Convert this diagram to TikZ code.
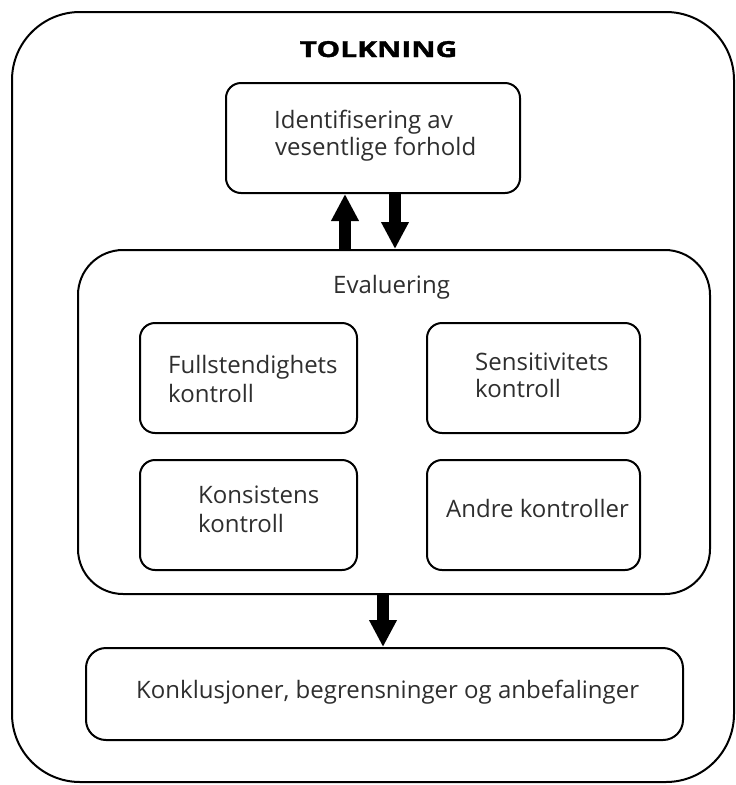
\documentclass[tikz,border=0pt]{standalone}
\usepackage{fontspec}
\setmainfont{Open Sans}
\newfontfamily\titlefont[FakeStretch=1.36,FakeBold=1.6]{Open Sans}
\usetikzlibrary{arrows.meta}
\tikzset{
  frame/.style={draw=black, line width=2pt, rounded corners=#1, inner sep=0pt},
  frame/.default=15pt,
  lbl/.style={font=\fontsize{24}{30}\selectfont, text=black!82, inner sep=0pt, anchor=base west},
  blockarrow/.style={line width=12pt, -{Triangle[width=26pt,length=27pt]}},
}
\begin{document}
\begin{tikzpicture}[x=1pt,y=-1pt]
  \useasboundingbox (0,0) rectangle (736,785);

  % outer frame and title
  \node[frame=68pt, minimum width=722pt, minimum height=770pt] (outer) at (373,397) {};
  \node[font=\fontsize{22}{26}\titlefont\bfseries, inner sep=0pt, anchor=base] (title) at (378.5,57) {TOLKNING};

  % identification step
  \node[frame, minimum width=294pt, minimum height=110pt] (ident) at (373,138) {};
  \node[lbl] (ident1) at (274,128) {Identifisering av};
  \node[lbl] (ident2) at (275,155) {vesentlige forhold};

  % evaluation group with its four checks
  \node[frame=45pt, minimum width=632pt, minimum height=344pt] (eval) at (394,422) {};
  \node[lbl] (evaltxt) at (333,293) {Evaluering};

  \node[frame, minimum width=217pt, minimum height=110pt] (full) at (248.5,378) {};
  \node[lbl] (full1) at (168,373) {Fullstendighets};
  \node[lbl] (full2) at (168,402) {kontroll};

  \node[frame, minimum width=213pt, minimum height=110pt] (sens) at (533.5,378) {};
  \node[lbl] (sens1) at (475,370) {Sensitivitets};
  \node[lbl] (sens2) at (475,397) {kontroll};

  \node[frame, minimum width=217pt, minimum height=110pt] (kons) at (248.5,515) {};
  \node[lbl] (kons1) at (198,503) {Konsistens};
  \node[lbl] (kons2) at (198,532) {kontroll};

  \node[frame, minimum width=213pt, minimum height=110pt] (andre) at (533.5,515) {};
  \node[lbl] (andretxt) at (446,517) {Andre kontroller};

  % conclusions
  \node[frame=20pt, minimum width=597pt, minimum height=92pt] (konk) at (384.5,694) {};
  \node[lbl] (konktxt) at (136,698) {Konklusjoner, begrensninger og anbefalinger};

  % arrows
  \coordinate (upx) at (345,0);
  \coordinate (downx) at (395,0);
  \coordinate (outx) at (383,0);
  \draw[blockarrow] (eval.north -| upx) -- (ident.south -| upx);
  \draw[blockarrow] (ident.south -| downx) -- (eval.north -| downx);
  \draw[blockarrow] (eval.south -| outx) -- (konk.north -| outx);
\end{tikzpicture}
\end{document}
